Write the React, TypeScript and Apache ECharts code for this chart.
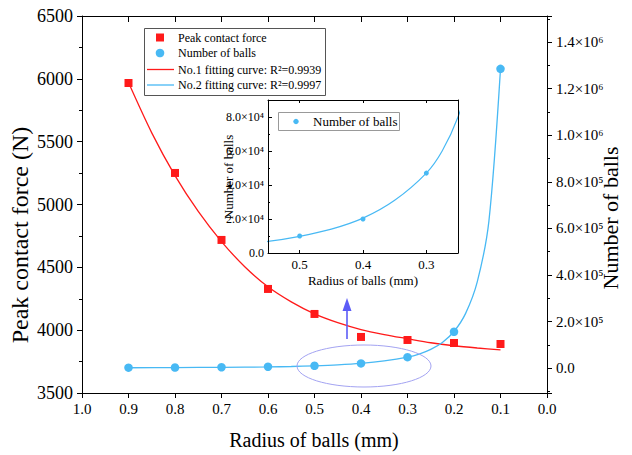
import React, { useEffect, useRef } from 'react';
import * as echarts from 'echarts';

// ---- data ----
const radius = [0.9, 0.8, 0.7, 0.6, 0.5, 0.4, 0.3, 0.2, 0.1];
const peakForce = [5967, 5251, 4718, 4328, 4129, 3946, 3922, 3898, 3890];
const numBalls = [1700, 2400, 3600, 5800, 10000, 20000, 47000, 156000, 1285000];

const fit1Radius = [0.9, 0.85, 0.8, 0.75, 0.7, 0.65, 0.6, 0.55, 0.5, 0.45, 0.4, 0.35, 0.3, 0.25, 0.2, 0.15, 0.1];
const fit1Force = [5970, 5570, 5230, 4945, 4705, 4505, 4345, 4225, 4130, 4060, 4005, 3965, 3932, 3900, 3876, 3858, 3843];

const fit2Radius = [0.9, 0.8, 0.7, 0.6, 0.55, 0.5, 0.45, 0.4, 0.35, 0.3, 0.275, 0.25, 0.225, 0.2, 0.175, 0.15, 0.125, 0.1];
const fit2Balls = [1500, 2200, 3300, 5000, 6800, 9800, 14000, 20500, 31000, 47000, 60000, 80000, 110000, 157000, 235000, 370000, 630000, 1285000];

const forceTicks = [3500, 4000, 4500, 5000, 5500, 6000, 6500];
const radiusTicks = [0, 0.1, 0.2, 0.3, 0.4, 0.5, 0.6, 0.7, 0.8, 0.9, 1.0];
const ballsAxisRange = [-107000, 1512000];
const ballsTickStep = 200000;
const insetRadiusRange = [0.25, 0.55];
const insetBallsTicks = [0, 20000, 40000, 60000, 80000];
const insetBallsMax = 90000;

const legendNames = [
  'Peak contact force',
  'Number of balls',
  'No.1 fitting curve: R\u00B2=0.9939',
  'No.2 fitting curve: R\u00B2=0.9997',
];

const SERIF = "'Liberation Serif', 'Times New Roman', serif";
const RED = '#ff1a1a';
const BLUE = '#48b9f4';

const SUP: Record<string, string> = {
  '0': '\u2070', '1': '\u00B9', '2': '\u00B2', '3': '\u00B3', '4': '\u2074',
  '5': '\u2075', '6': '\u2076', '7': '\u2077', '8': '\u2078', '9': '\u2079',
};
function sci(v: number): string {
  if (Math.abs(v) < 1e-9) return '0.0';
  const e = Math.floor(Math.log10(Math.abs(v)) + 1e-9);
  const m = v / Math.pow(10, e);
  return m.toFixed(1) + '\u00D710' + String(e).split('').map((c) => SUP[c] || c).join('');
}

const zip = (a: number[], b: number[]) => a.map((x, i) => [x, b[i]]);

export default function App() {
  const ref = useRef<HTMLDivElement>(null);
  useEffect(() => {
    if (!ref.current) return;
    const chart = echarts.init(ref.current, undefined, { renderer: 'svg' });
    const axisLine = { show: true, onZero: false, lineStyle: { color: '#000', width: 1 } };
    const legendRows = [37.5, 53, 69.5, 85];
    const legendText = (i: number) => ({
      type: 'text', z: 31, x: 178, y: legendRows[i],
      style: { text: legendNames[i], font: `12px ${SERIF}`, fill: '#000', textAlign: 'left', textVerticalAlign: 'middle' },
    });
    const option: any = {
      animation: false,
      backgroundColor: '#fff',
      grid: [
        { left: 82, top: 16, right: 85, bottom: 62, containLabel: false },
        { left: 268, top: 100, right: 174, bottom: 202, show: true, backgroundColor: '#fff', borderWidth: 0, z: 5 },
      ],
      xAxis: [
        {
          type: 'value', gridIndex: 0, inverse: true,
          min: radiusTicks[0], max: radiusTicks[radiusTicks.length - 1], interval: 0.1,
          axisLine, splitLine: { show: false },
          axisTick: { show: true, inside: false, length: 5, lineStyle: { color: '#000' } },
          axisLabel: { color: '#000', fontFamily: SERIF, fontSize: 15, margin: 8, formatter: (v: number) => v.toFixed(1) },
        },
        {
          type: 'value', gridIndex: 0, inverse: true, position: 'top',
          min: radiusTicks[0], max: radiusTicks[radiusTicks.length - 1], interval: 0.1,
          axisLine, splitLine: { show: false },
          axisTick: { show: true, inside: true, length: 6, lineStyle: { color: '#000' } },
          axisLabel: { show: false },
        },
        {
          type: 'value', gridIndex: 1, inverse: true, z: 10,
          min: insetRadiusRange[0], max: insetRadiusRange[1], minInterval: 0.1, maxInterval: 0.1, splitNumber: 3,
          axisLine, splitLine: { show: false },
          axisTick: { show: true, inside: true, length: 3, lineStyle: { color: '#000' } },
          axisLabel: { color: '#000', fontFamily: SERIF, fontSize: 13, margin: 5, showMinLabel: false, showMaxLabel: false, formatter: (v: number) => v.toFixed(1) },
        },
        {
          type: 'value', gridIndex: 1, inverse: true, position: 'top', z: 10,
          min: insetRadiusRange[0], max: insetRadiusRange[1], minInterval: 0.1, maxInterval: 0.1, splitNumber: 3,
          axisLine, splitLine: { show: false },
          axisTick: { show: true, inside: true, length: 3, lineStyle: { color: '#000' } },
          axisLabel: { show: false },
        },
      ],
      yAxis: [
        {
          type: 'value', gridIndex: 0, position: 'left',
          min: forceTicks[0], max: forceTicks[forceTicks.length - 1], interval: 500,
          axisLine, splitLine: { show: false },
          axisTick: { show: true, inside: false, length: 5, lineStyle: { color: '#000' } },
          minorTick: { show: true, splitNumber: 2, length: 3, lineStyle: { color: '#000' } },
          minorSplitLine: { show: false },
          axisLabel: { color: '#000', fontFamily: SERIF, fontSize: 18, margin: 9, formatter: (v: number) => String(v) },
        },
        {
          type: 'value', gridIndex: 0, position: 'right',
          min: ballsAxisRange[0], max: ballsAxisRange[1], splitNumber: 8,
          minInterval: ballsTickStep, maxInterval: ballsTickStep,
          axisLine, splitLine: { show: false },
          axisTick: { show: true, inside: false, length: 5, lineStyle: { color: '#000' } },
          minorTick: { show: true, splitNumber: 2, length: 3, lineStyle: { color: '#000' } },
          minorSplitLine: { show: false },
          axisLabel: { color: '#000', fontFamily: SERIF, fontSize: 15, margin: 9, showMinLabel: false, showMaxLabel: false, formatter: sci },
        },
        {
          type: 'value', gridIndex: 1, position: 'left', z: 10,
          min: insetBallsTicks[0], max: insetBallsMax, interval: 20000,
          axisLine, splitLine: { show: false },
          axisTick: { show: true, inside: true, length: 4, lineStyle: { color: '#000' } },
          minorTick: { show: true, splitNumber: 2, length: 2, lineStyle: { color: '#000' } },
          minorSplitLine: { show: false },
          axisLabel: { color: '#000', fontFamily: SERIF, fontSize: 12, margin: 4, showMaxLabel: false, formatter: sci },
        },
        {
          type: 'value', gridIndex: 1, position: 'right', z: 10,
          min: insetBallsTicks[0], max: insetBallsMax,
          axisLine, splitLine: { show: false }, axisTick: { show: false }, axisLabel: { show: false },
        },
      ],
      series: [
        {
          name: legendNames[2], type: 'line', xAxisIndex: 0, yAxisIndex: 0,
          data: zip(fit1Radius, fit1Force), showSymbol: false, symbol: 'none',
          smooth: 0.3,
          lineStyle: { color: RED, width: 1.3 }, itemStyle: { color: RED }, z: 2,
        },
        {
          name: legendNames[3], type: 'line', xAxisIndex: 0, yAxisIndex: 1,
          data: zip(fit2Radius, fit2Balls), showSymbol: false, symbol: 'none',
          smooth: 0.3,
          lineStyle: { color: BLUE, width: 1.3 }, itemStyle: { color: BLUE }, z: 2,
        },
        {
          name: legendNames[0], type: 'scatter', xAxisIndex: 0, yAxisIndex: 0,
          data: zip(radius, peakForce), symbol: 'rect', symbolSize: 8,
          itemStyle: { color: RED, opacity: 1 }, z: 3,
        },
        {
          name: legendNames[1], type: 'scatter', xAxisIndex: 0, yAxisIndex: 1,
          data: zip(radius, numBalls), symbol: 'circle', symbolSize: 8.5,
          itemStyle: { color: BLUE, opacity: 1 }, z: 3,
        },
        {
          name: 'inset-fit', type: 'line', xAxisIndex: 2, yAxisIndex: 2,
          data: zip(fit2Radius, fit2Balls), showSymbol: false, symbol: 'none',
          smooth: 0.3, clip: true,
          lineStyle: { color: BLUE, width: 1.2 }, itemStyle: { color: BLUE }, z: 6,
        },
        {
          name: 'inset-balls', type: 'scatter', xAxisIndex: 2, yAxisIndex: 2,
          data: zip(radius, numBalls), symbol: 'circle', symbolSize: 5, clip: true,
          itemStyle: { color: BLUE, opacity: 1 }, z: 7,
        },
      ],
      graphic: [
        // main legend
        {
          type: 'rect', z: 30, silent: true,
          shape: { x: 144.5, y: 28.5, width: 181, height: 67 },
          style: { fill: '#fff', stroke: '#555', lineWidth: 1 },
        },
        {
          type: 'rect', z: 31, silent: true,
          shape: { x: 156, y: legendRows[0] - 4, width: 8, height: 8 },
          style: { fill: RED },
        },
        {
          type: 'circle', z: 31, silent: true,
          shape: { cx: 160, cy: legendRows[1], r: 4.3 },
          style: { fill: BLUE },
        },
        {
          type: 'line', z: 31, silent: true,
          shape: { x1: 147, y1: legendRows[2], x2: 174, y2: legendRows[2] },
          style: { stroke: RED, lineWidth: 1.3 },
        },
        {
          type: 'line', z: 31, silent: true,
          shape: { x1: 147, y1: legendRows[3], x2: 174, y2: legendRows[3] },
          style: { stroke: BLUE, lineWidth: 1.3 },
        },
        legendText(0), legendText(1), legendText(2), legendText(3),
        // inset legend
        {
          type: 'rect', z: 30, silent: true,
          shape: { x: 278.5, y: 112.5, width: 121, height: 18 },
          style: { fill: '#fff', stroke: '#999', lineWidth: 1 },
        },
        {
          type: 'circle', z: 31, silent: true,
          shape: { cx: 296, cy: 121.5, r: 2.7 },
          style: { fill: BLUE },
        },
        {
          type: 'text', z: 31, x: 313, y: 121.5,
          style: { text: legendNames[1], font: `13px ${SERIF}`, fill: '#000', textAlign: 'left', textVerticalAlign: 'middle' },
        },
        // annotations
        {
          type: 'ellipse', z: 20, silent: true,
          shape: { cx: 364, cy: 366, rx: 67, ry: 21 },
          style: { fill: 'none', stroke: '#a3a3f2', lineWidth: 1 },
        },
        {
          type: 'line', z: 20, silent: true,
          shape: { x1: 347, y1: 339, x2: 347, y2: 308 },
          style: { stroke: '#5c5cf7', lineWidth: 1.6 },
        },
        {
          type: 'polygon', z: 20, silent: true,
          shape: { points: [[347, 298], [342.5, 311], [351.5, 311]] },
          style: { fill: '#5c5cf7' },
        },
        // axis titles
        {
          type: 'text', z: 20, x: 20, y: 235, rotation: Math.PI / 2,
          style: { text: 'Peak contact force (N)', font: `24px ${SERIF}`, fill: '#000', textAlign: 'center', textVerticalAlign: 'middle' },
        },
        {
          type: 'text', z: 20, x: 610, y: 218, rotation: Math.PI / 2,
          style: { text: 'Number of balls', font: `22px ${SERIF}`, fill: '#000', textAlign: 'center', textVerticalAlign: 'middle' },
        },
        {
          type: 'text', z: 20, x: 314, y: 440,
          style: { text: 'Radius of balls (mm)', font: `20px ${SERIF}`, fill: '#000', textAlign: 'center', textVerticalAlign: 'middle' },
        },
        {
          type: 'text', z: 20, x: 228, y: 177, rotation: Math.PI / 2,
          style: { text: 'Number of balls', font: `13px ${SERIF}`, fill: '#000', textAlign: 'center', textVerticalAlign: 'middle' },
        },
        {
          type: 'text', z: 20, x: 363, y: 280,
          style: { text: 'Radius of balls (mm)', font: `13px ${SERIF}`, fill: '#000', textAlign: 'center', textVerticalAlign: 'middle' },
        },
      ],
    };
    chart.setOption(option);
    return () => chart.dispose();
  }, []);
  return <div ref={ref} style={{ position: 'fixed', left: 0, top: 0, width: 632, height: 455, background: '#fff' }} />;
}
